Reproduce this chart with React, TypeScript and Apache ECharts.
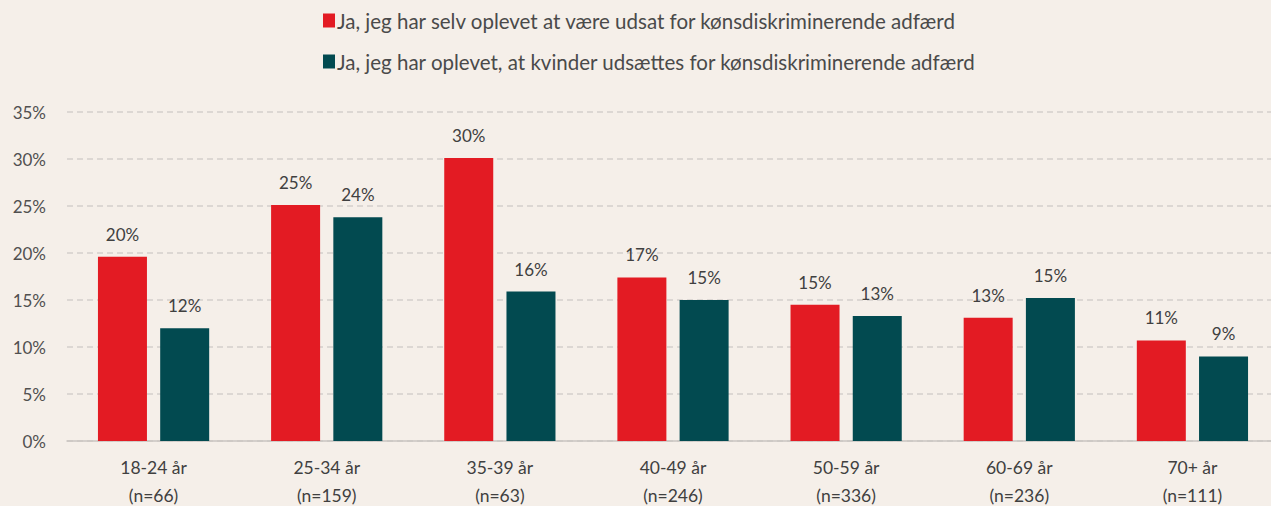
import React, { useEffect, useRef } from "react";
import * as echarts from "echarts";

const categories = [
  "18-24 år\n(n=66)",
  "25-34 år\n(n=159)",
  "35-39 år\n(n=63)",
  "40-49 år\n(n=246)",
  "50-59 år\n(n=336)",
  "60-69 år\n(n=236)",
  "70+ år\n(n=111)",
];
const seriesNames = [
  "Ja, jeg har selv oplevet at være udsat for kønsdiskriminerende adfærd",
  "Ja, jeg har oplevet, at kvinder udsættes for kønsdiskriminerende adfærd",
];
const selfExperienced = [19.6, 25.1, 30.1, 17.4, 14.5, 13.1, 10.7];
const womenExperienced = [12.0, 23.8, 15.9, 15.0, 13.3, 15.2, 9.0];

const colors = ["#E31B23", "#024A50"];
const textColor = "#404040";
const font = "Lato";

export default function App() {
  const ref = useRef<HTMLDivElement>(null);
  useEffect(() => {
    if (!ref.current) return;
    const chart = echarts.init(ref.current, undefined, { renderer: "svg" });
    const label = {
      show: true,
      position: "top" as const,
      distance: 14,
      color: textColor,
      fontFamily: font,
      fontSize: 17,
      formatter: (p: any) => Math.round(p.value) + "%",
    };
    chart.setOption({
      animation: false,
      backgroundColor: "#F5EFE9",
      color: colors,
      legend: {
        orient: "vertical",
        left: 318,
        top: 5,
        itemWidth: 12,
        itemHeight: 14,
        itemGap: 20,
        icon: "rect",
        textStyle: { color: "#4a4a4a", fontFamily: font, fontSize: 20.5, padding: [0, 0, 0, -3] },
        data: seriesNames,
      },
      grid: {
        left: 67,
        width: 1212,
        top: 112,
        height: 329,
        containLabel: false,
        outerBoundsMode: "none",
      },
      xAxis: {
        type: "category",
        data: categories,
        axisLine: { show: true, lineStyle: { color: "#C9C5C1", width: 1.5 } },
        axisTick: { show: false },
        axisLabel: {
          color: textColor,
          fontFamily: font,
          fontSize: 17.5,
          lineHeight: 28,
          margin: 12,
        },
      },
      yAxis: {
        type: "value",
        min: 0,
        max: 35,
        interval: 5,
        axisLine: { show: false },
        axisTick: { show: false },
        axisLabel: {
          color: "#505050",
          fontFamily: font,
          fontSize: 17,
          margin: 21,
          formatter: "{value}%",
        },
        splitLine: { lineStyle: { color: "#D3CFCB", type: [6, 4], width: 1.5 } },
      },
      series: [
        {
          name: seriesNames[0],
          type: "bar",
          data: selfExperienced,
          barWidth: 49,
          barGap: "27%",
          label,
        },
        {
          name: seriesNames[1],
          type: "bar",
          data: womenExperienced,
          barWidth: 49,
          label,
        },
      ],
    });
    return () => chart.dispose();
  }, []);
  return (
    <div
      ref={ref}
      style={{ position: "fixed", left: 0, top: 0, width: 1271, height: 506 }}
    />
  );
}
